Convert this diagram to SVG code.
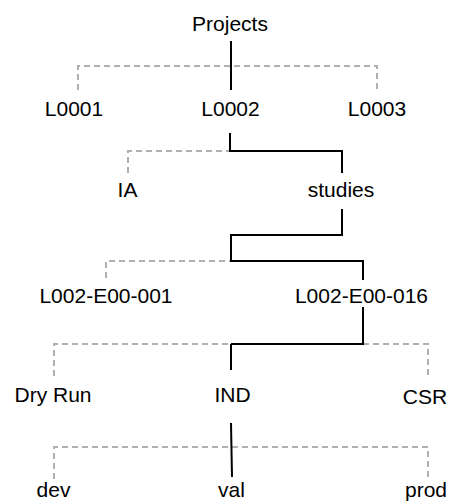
<svg xmlns="http://www.w3.org/2000/svg" width="450" height="502" viewBox="0 0 450 502">
<style>
text{font-family:"Liberation Sans",Arial,sans-serif;font-size:21px;fill:#000;text-anchor:middle}
.d{fill:none;stroke:#b0b0b0;stroke-width:2;stroke-dasharray:6,4}
.s{fill:none;stroke:#000;stroke-width:2}
</style>
<rect width="450" height="502" fill="#fff"/>
<g id="connectors">
<path class="d" d="M78 90V66H377V90"/>
<path class="s" d="M231 41V90"/>
<path class="d" d="M128 173V151H230"/>
<path class="s" d="M230 133V151H342V173"/>
<path class="d" d="M106 278V261H231"/>
<path class="s" d="M342 209V235H231V261H363V280"/>
<path class="d" d="M54 376V344H231M363 344H428V375"/>
<path class="s" d="M363 307V344H231"/>
<path class="s" d="M231 344V370" stroke-width="3"/>
<path class="d" d="M54 479V447H428V477"/>
<path class="s" d="M231 423L232 477"/>
</g>
<g id="projects"><text x="230" y="31">Projects</text></g>
<g id="l0001"><text x="74" y="116">L0001</text></g>
<g id="l0002"><text x="230.5" y="116">L0002</text></g>
<g id="l0003"><text x="377" y="116">L0003</text></g>
<g id="ia"><text x="127.5" y="197">IA</text></g>
<g id="studies"><text x="341" y="197">studies</text></g>
<g id="e001"><text x="106" y="303">L002-E00-001</text></g>
<g id="e016"><text x="361.5" y="303">L002-E00-016</text></g>
<g id="dryrun"><text x="53" y="402">Dry Run</text></g>
<g id="ind"><text x="232.5" y="402">IND</text></g>
<g id="csr"><text x="425" y="403.5">CSR</text></g>
<g id="dev"><text x="53.5" y="497">dev</text></g>
<g id="val"><text x="231.5" y="497">val</text></g>
<g id="prod"><text x="426" y="497">prod</text></g>
</svg>
